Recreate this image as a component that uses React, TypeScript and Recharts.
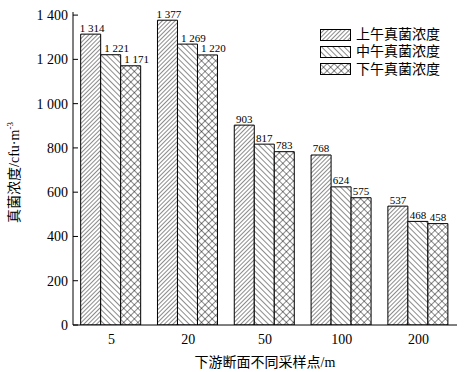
import { Bar, BarChart, LabelList, XAxis, YAxis } from 'recharts';

const sites = ['5', '20', '50', '100', '200'];
const morning = [1314, 1377, 903, 768, 537];
const noon = [1221, 1269, 817, 624, 468];
const afternoon = [1171, 1220, 783, 575, 458];
const yTicks = [0, 200, 400, 600, 800, 1000, 1200, 1400];
const seriesNames = ['上午真菌浓度', '中午真菌浓度', '下午真菌浓度'];

const data = sites.map((s, i) => ({
  site: s,
  morning: morning[i],
  noon: noon[i],
  afternoon: afternoon[i],
}));

const FONT = '"Liberation Serif", "Times New Roman", "Noto Sans CJK SC", serif';

// 1 314 style, space as thousands separator
function fmt(v: number) {
  if (v < 1000) return String(v);
  return `${Math.floor(v / 1000)} ${String(v % 1000).padStart(3, '0')}`;
}

const patternIds = ['hatchFwd', 'hatchBack', 'hatchCross'];

function YTick(props: any) {
  const { x, y, payload } = props;
  return (
    <g>
      <line x1={x} x2={x + 5} y1={y} y2={y} stroke="#000" strokeWidth={1} />
      <text x={x - 5} y={y} dy={5} textAnchor="end" fontSize={14} fontFamily={FONT} fill="#000">
        {fmt(payload.value)}
      </text>
    </g>
  );
}

function XTick(props: any) {
  const { x, y, payload } = props;
  return (
    <text x={x} y={y} dy={19} textAnchor="middle" fontSize={14} fontFamily={FONT} fill="#000">
      {payload.value}
    </text>
  );
}

function YLabel(props: any) {
  const vb = props.viewBox;
  const cx = 19;
  const cy = vb.y + vb.height / 2 + 4;
  return (
    <text
      x={cx}
      y={cy}
      transform={`rotate(-90 ${cx} ${cy})`}
      textAnchor="middle"
      fontSize={14}
      fontFamily={FONT}
      fill="#000"
    >
      真菌浓度/cfu·m
      <tspan dy={-6} fontSize={9}>
        -3
      </tspan>
    </text>
  );
}

// wide 4-digit labels get nudged right so they don't run into the neighbour
function makeLabel(series: number) {
  return function ValueLabel(props: any) {
    const { x, y, width, value } = props;
    const v = Number(value);
    const dx = v >= 1000 ? (series === 0 ? 1.5 : 6) : 0;
    return (
      <text x={x + width / 2 + dx} y={y - 2.5} textAnchor="middle" fontSize={11} fontFamily={FONT} fill="#000">
        {fmt(v)}
      </text>
    );
  };
}

function LegendBox() {
  return (
    <div
      style={{
        position: 'absolute',
        left: 320,
        top: 26,
        fontFamily: FONT,
        fontSize: 14,
        lineHeight: '17px',
        color: '#000',
      }}
    >
      {seriesNames.map((n, i) => (
        <div key={n} style={{ display: 'flex', alignItems: 'center', height: 17.3 }}>
          <svg width={31} height={12} style={{ marginRight: 5 }}>
            <rect x={0.5} y={0.5} width={30} height={11} fill={`url(#${patternIds[i]})`} stroke="#000" />
          </svg>
          <span>{n}</span>
        </div>
      ))}
    </div>
  );
}

export default function App() {
  return (
    <div style={{ position: 'absolute', left: 0, top: 0, width: 473, height: 372, background: '#fff' }}>
      <BarChart
        width={473}
        height={372}
        data={data}
        margin={{ top: 12, right: 16, bottom: 0, left: 0 }}
        barCategoryGap="10%"
        barGap={0}
      >
        <defs>
          <pattern id="hatchFwd" width={3} height={3} patternUnits="userSpaceOnUse" patternTransform="rotate(45)">
            <rect width={3} height={3} fill="#fff" />
            <line x1={0} y1={0} x2={0} y2={3} stroke="#000" strokeWidth={0.9} />
          </pattern>
          <pattern id="hatchBack" width={4} height={4} patternUnits="userSpaceOnUse" patternTransform="rotate(-45)">
            <rect width={4} height={4} fill="#fff" />
            <line x1={0} y1={0} x2={0} y2={4} stroke="#000" strokeWidth={0.9} />
          </pattern>
          <pattern id="hatchCross" width={5} height={5} patternUnits="userSpaceOnUse" patternTransform="rotate(45)">
            <rect width={5} height={5} fill="#fff" />
            <line x1={0} y1={0} x2={0} y2={5} stroke="#000" strokeWidth={0.9} />
            <line x1={0} y1={0} x2={5} y2={0} stroke="#000" strokeWidth={0.9} />
          </pattern>
        </defs>
        <XAxis
          dataKey="site"
          axisLine={{ stroke: '#000' }}
          tickLine={false}
          tick={<XTick />}
          height={47}
          tickSize={0}
          tickMargin={0}
          label={{
            value: '下游断面不同采样点/m',
            position: 'insideBottom',
            offset: 5,
            fontSize: 14,
            fontFamily: FONT,
            fill: '#000',
          }}
        />
        <XAxis xAxisId="top" orientation="top" dataKey="site" tick={false} tickLine={false} axisLine={{ stroke: '#000' }} height={0} />
        <YAxis
          domain={[0, 1414]}
          ticks={yTicks}
          width={73}
          axisLine={{ stroke: '#000' }}
          tickLine={false}
          tickSize={0}
          tickMargin={0}
          tick={<YTick />}
          label={<YLabel />}
          allowDataOverflow
        />
        <YAxis yAxisId="right" orientation="right" tick={false} tickLine={false} axisLine={{ stroke: '#000' }} width={0} />
        {(['morning', 'noon', 'afternoon'] as const).map((k, i) => {
          const Lbl = makeLabel(i);
          return (
            <Bar key={k} dataKey={k} name={seriesNames[i]} fill={`url(#${patternIds[i]})`} stroke="#000" strokeWidth={1} isAnimationActive={false}>
              <LabelList dataKey={k} content={<Lbl />} />
            </Bar>
          );
        })}
      </BarChart>
      <LegendBox />
    </div>
  );
}
